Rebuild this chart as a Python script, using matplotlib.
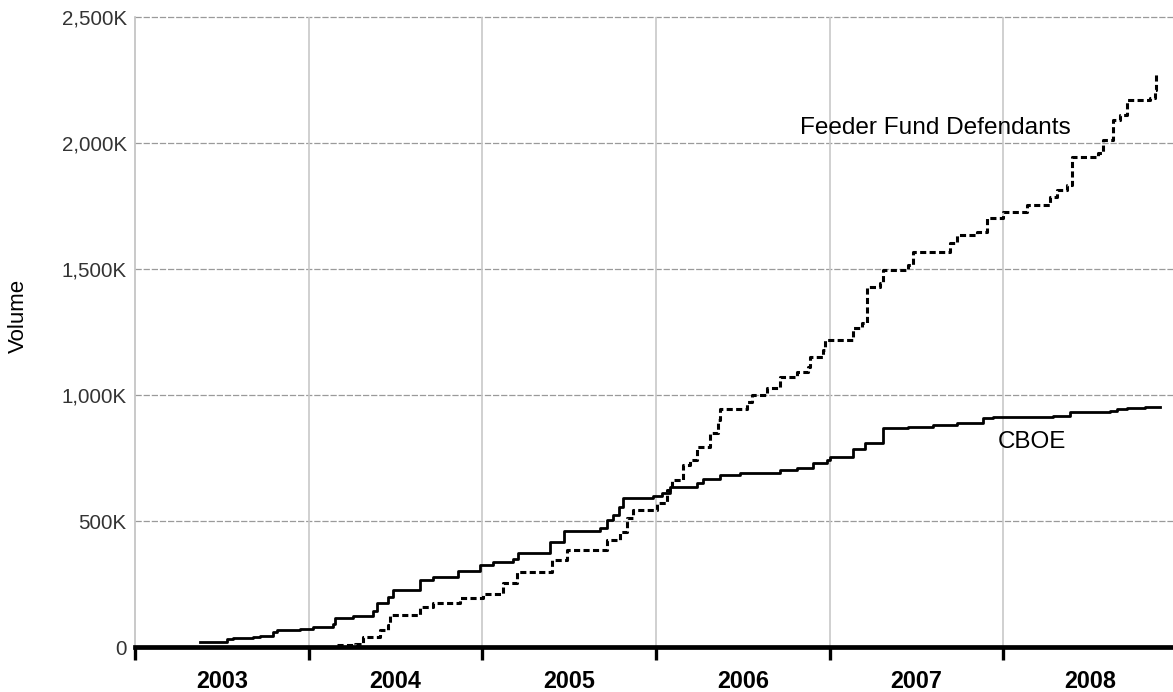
import matplotlib
matplotlib.use("Agg")
import matplotlib.pyplot as plt
from matplotlib import font_manager
from matplotlib.ticker import FixedLocator, FixedFormatter

# ---------------- data ----------------
years = [2003, 2004, 2005, 2006, 2007, 2008]
year_labels = ["2003", "2004", "2005", "2006", "2007", "2008"]
ytick_values = [0, 500, 1000, 1500, 2000, 2500]
ytick_labels = ["0", "500K", "1,000K", "1,500K", "2,000K", "2,500K"]

cboe_t = [2003.374, 2003.530, 2003.564, 2003.679, 2003.720, 2003.794, 2003.817,
          2003.950, 2004.025, 2004.140, 2004.151, 2004.255, 2004.370, 2004.393,
          2004.457, 2004.485, 2004.641, 2004.716, 2004.860, 2004.986, 2005.061,
          2005.176, 2005.205, 2005.389, 2005.470, 2005.677, 2005.717, 2005.752,
          2005.786, 2005.809, 2005.982, 2006.034, 2006.080, 2006.235, 2006.270,
          2006.368, 2006.483, 2006.713, 2006.811, 2006.903, 2006.984, 2007.001,
          2007.134, 2007.203, 2007.306, 2007.450, 2007.594, 2007.732, 2007.882,
          2007.940, 2008.285, 2008.383, 2008.613, 2008.653, 2008.711, 2008.815,
          2008.901]
cboe_v = [20, 32, 36, 40, 46, 60, 69,
          73, 79, 92, 115, 124, 144, 177,
          201, 227, 267, 280, 304, 327, 340,
          349, 373, 419, 461, 472, 505, 525,
          558, 594, 600, 613, 637, 651, 667,
          684, 693, 703, 710, 730, 743, 756,
          786, 810, 869, 875, 882, 889, 909,
          915, 918, 935, 938, 946, 951, 955,
          955]

feeder_t = [2004.163, 2004.267, 2004.313, 2004.410, 2004.457, 2004.468, 2004.641,
            2004.716, 2004.871, 2005.003, 2005.119, 2005.199, 2005.401, 2005.487,
            2005.717, 2005.792, 2005.832, 2005.867, 2006.005, 2006.063, 2006.091,
            2006.155, 2006.195, 2006.235, 2006.310, 2006.356, 2006.368, 2006.523,
            2006.552, 2006.638, 2006.713, 2006.811, 2006.874, 2006.886, 2006.961,
            2006.972, 2007.134, 2007.185, 2007.214, 2007.289, 2007.306, 2007.450,
            2007.479, 2007.692, 2007.732, 2007.847, 2007.905, 2007.997, 2008.135,
            2008.268, 2008.308, 2008.366, 2008.394, 2008.544, 2008.573, 2008.630,
            2008.671, 2008.711, 2008.843, 2008.872, 2008.878]
feeder_v = [9, 13, 40, 69, 88, 128, 159,
            175, 197, 211, 254, 300, 346, 386,
            426, 459, 512, 545, 571, 624, 664,
            723, 743, 796, 849, 902, 944, 975,
            1001, 1028, 1074, 1094, 1113, 1150, 1180,
            1219, 1266, 1286, 1431, 1444, 1497, 1517,
            1570, 1603, 1636, 1649, 1702, 1729, 1755,
            1788, 1815, 1834, 1945, 1960, 2013, 2093,
            2112, 2172, 2178, 2211, 2283]

# ---------------- fonts ----------------
def has_font(name):
    try:
        font_manager.findfont(name, fallback_to_default=False)
        return True
    except Exception:
        return False

if has_font("Liberation Sans Narrow"):
    tick_font, tick_size = "Liberation Sans Narrow", 17
else:
    tick_font, tick_size = "Liberation Sans", 14.8
main_font = "Liberation Sans" if has_font("Liberation Sans") else "DejaVu Sans"

# ---------------- figure ----------------
W, H = 1173, 692
fig = plt.figure(figsize=(W / 100, H / 100), dpi=100)
ax = fig.add_axes([135 / W, (H - 647.3) / H, (1173 - 135) / W, (647.3 - 17.3) / H])
ax.set_xlim(2003, 2008.976)
ax.set_ylim(0, 2500)

# gridlines
for yv in ytick_values[1:]:
    ax.axhline(yv, color="#9a9a9a", lw=0.9, ls=(0, (5, 1.5)), zorder=1, clip_on=False)
for yr in years[1:]:
    ax.axvline(yr, color="#c8c8c8", lw=1.2, zorder=1)

# series
ax.step(cboe_t, cboe_v, where="post", color="black", lw=2.0, zorder=3)
ax.step(feeder_t, feeder_v, where="post", color="black", lw=2.2,
        ls=(0, (2.0, 1.1)), zorder=3)

# annotations
ax.text(2007.606, 2061, "Feeder Fund Defendants", ha="center", va="center",
        fontsize=17.6, family=main_font, color="black", zorder=4)
ax.text(2008.164, 815, "CBOE", ha="center", va="center",
        fontsize=17.4, family=main_font, color="black", zorder=4)

# spines
for s in ["top", "right"]:
    ax.spines[s].set_visible(False)
ax.spines["left"].set_color("#c0c0c0")
ax.spines["left"].set_linewidth(1.2)
ax.spines["bottom"].set_color("black")
ax.spines["bottom"].set_linewidth(3.4)
ax.spines["bottom"].set_zorder(5)

# x ticks: major at year boundaries, labels at mid-year
ax.xaxis.set_major_locator(FixedLocator(years))
ax.xaxis.set_major_formatter(FixedFormatter([""] * len(years)))
ax.xaxis.set_minor_locator(FixedLocator([y + 0.5 for y in years]))
ax.xaxis.set_minor_formatter(FixedFormatter(year_labels))
ax.tick_params(axis="x", which="major", direction="out", length=9.5, width=2.4,
               color="black")
ax.tick_params(axis="x", which="minor", length=0, pad=16)
for lab in ax.xaxis.get_minorticklabels():
    lab.set_fontsize(16.8)
    lab.set_fontweight("bold")
    lab.set_family(main_font)

# y ticks
ax.yaxis.set_major_locator(FixedLocator(ytick_values))
ax.yaxis.set_major_formatter(FixedFormatter(ytick_labels))
ax.tick_params(axis="y", length=0, pad=6, labelcolor="#333333")
for lab in ax.get_yticklabels():
    lab.set_fontsize(tick_size)
    lab.set_family(tick_font)

ax.set_ylabel("Volume", fontsize=16, family=main_font, color="black", labelpad=0)
ax.yaxis.set_label_coords(-(135 - 29) / (1173 - 135), 0.526)

fig.savefig("out.png", dpi=100)
